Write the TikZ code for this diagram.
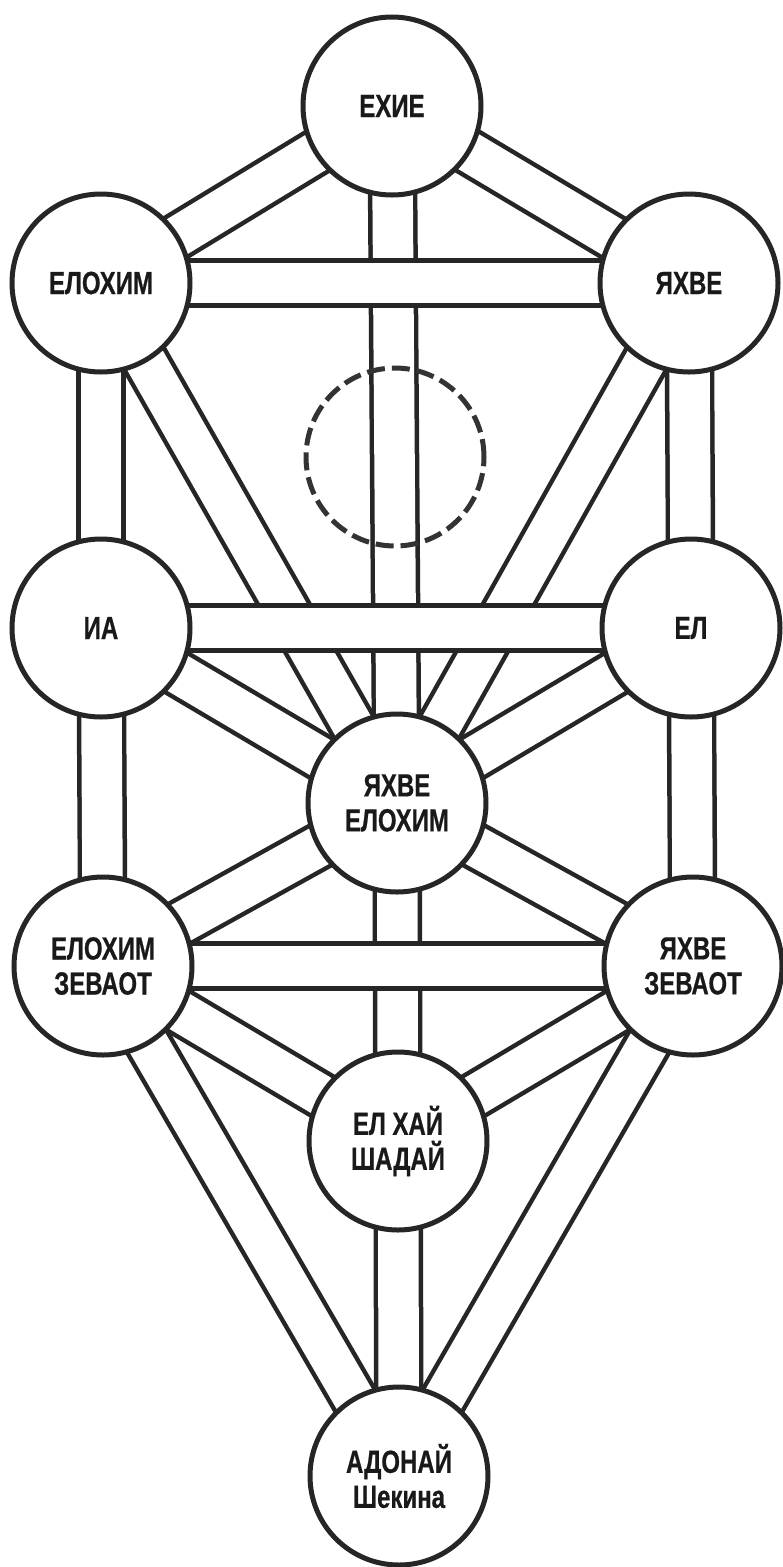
\documentclass[tikz,border=0pt]{standalone}
\usepackage{fontspec}
\newfontfamily\lblfont{Liberation Sans}[FakeStretch=0.75,FakeBold=0.6]
\begin{document}
\begin{tikzpicture}[x=1pt,y=-1pt,
  sefira/.style={circle, draw=black!85, line width=5pt, fill=white, minimum size=178pt, inner sep=0pt, align=center,
    font=\lblfont\bfseries\fontsize{32}{35}\selectfont, text=black!90},
  daat/.style={circle, draw=black!80, line width=5pt, dash pattern=on 18pt off 7pt, minimum size=178pt, inner sep=0pt},
  chan/.style={line width=4.5pt, draw=black!85, double=white, double distance=40.5pt}]
\useasboundingbox (0,0) rectangle (783,1567);
\fill[white] (0,0) rectangle (783,1567);
% centre positions
\path (392,106) coordinate (pk)
      (101,283) coordinate (pb)
      (689,283) coordinate (pc)
      (395,457) coordinate (pd)
      (101,628) coordinate (pg)
      (691,628) coordinate (pch)
      (397,803) coordinate (pt)
      (103,966) coordinate (ph)
      (693,966) coordinate (pn)
      (398,1141) coordinate (py)
      (399,1476) coordinate (pm);
% diagonal channels
\draw[chan] (pk) -- (pb);
\draw[chan] (pk) -- (pc);
\draw[chan] (pb) -- (pt);
\draw[chan] (pc) -- (pt);
\draw[chan] (pg) -- (pt);
\draw[chan] (pch) -- (pt);
\draw[chan] (pt) -- (ph);
\draw[chan] (pt) -- (pn);
\draw[chan] (ph) -- (py);
\draw[chan] (pn) -- (py);
\draw[chan] (ph) -- (pm);
\draw[chan] (pn) -- (pm);
% vertical channels
\draw[chan] (pk) -- (pt);
\draw[chan] (pt) -- (py);
\draw[chan] (py) -- (pm);
\draw[chan] (pb) -- (pg);
\draw[chan] (pg) -- (ph);
\draw[chan] (pc) -- (pch);
\draw[chan] (pch) -- (pn);
% horizontal channels
\draw[chan] (pb) -- (pc);
\draw[chan] (pg) -- (pch);
\draw[chan] (ph) -- (pn);
% Daat
\node[daat] (daat) at (pd) {};
% sefirot
\node[sefira] (keter) at (pk) {ЕХИЕ};
\node[sefira] (binah) at (pb) {ЕЛОХИМ};
\node[sefira] (chokmah) at (pc) {ЯХВЕ};
\node[sefira] (gevurah) at (pg) {ИА};
\node[sefira] (chesed) at (pch) {ЕЛ};
\node[sefira] (tiferet) at (pt) {ЯХВЕ\\ЕЛОХИМ};
\node[sefira] (hod) at (ph) {ЕЛОХИМ\\ЗЕВАОТ};
\node[sefira] (netzach) at (pn) {ЯХВЕ\\ЗЕВАОТ};
\node[sefira] (yesod) at (py) {ЕЛ ХАЙ\\ШАДАЙ};
\node[sefira] (malkuth) at (pm) {АДОНАЙ\\Шекина};
\end{tikzpicture}
\end{document}
